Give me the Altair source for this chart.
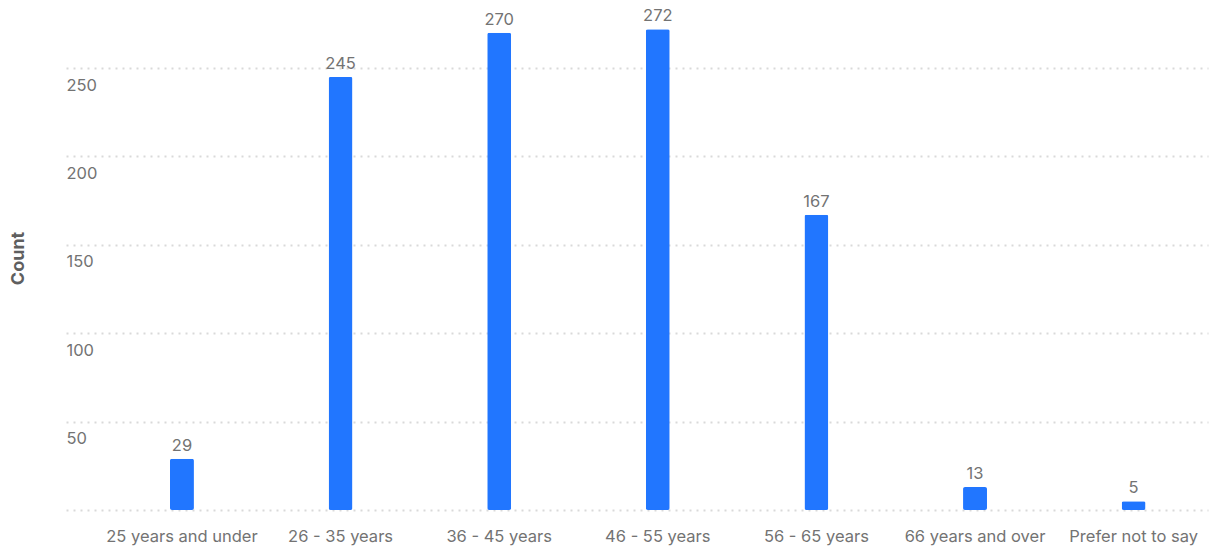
import altair as alt
import pandas as pd

# Respondents by age band
age_groups = [
    "25 years and under",
    "26 - 35 years",
    "36 - 45 years",
    "46 - 55 years",
    "56 - 65 years",
    "66 years and over",
    "Prefer not to say",
]
counts = [29, 245, 270, 272, 167, 13, 5]

df = pd.DataFrame({"group": age_groups, "count": counts})

FONT = "Inter"
TEXT_GREY = "#737373"
BAR_BLUE = "#2176ff"

x_scale = alt.Scale(paddingInner=0.849, paddingOuter=0.5245, align=0.625)

x_enc = alt.X(
    "group:N",
    sort=age_groups,
    title=None,
    scale=x_scale,
    axis=alt.Axis(
        labelAngle=0,
        labelFontSize=16.5,
        labelColor=TEXT_GREY,
        labelFont=FONT,
        ticks=False,
        domain=False,
        labelPadding=18,
    ),
)

y_enc = alt.Y(
    "count:Q",
    title="Count",
    scale=alt.Scale(domain=[0, 288.5], nice=False),
    axis=alt.Axis(
        values=[0, 50, 100, 150, 200, 250],
        labelExpr="datum.value == 0 ? '' : datum.label",
        labelAlign="left",
        labelBaseline="top",
        labelPadding=0,
        labelOffset=9,
        labelFontSize=16.5,
        labelColor=TEXT_GREY,
        labelFont=FONT,
        ticks=False,
        domain=False,
        grid=True,
        gridDash=[2, 5],
        gridWidth=2,
        gridColor="#d9d9d9",
        title="Count",
        titleFont=FONT,
        titleFontSize=18,
        titleFontWeight="bold",
        titleColor="#5f5f5f",
        titleX=-48,
        titleY=258,
        titleAngle=270,
        titleAlign="center",
        titleBaseline="middle",
    ),
)

bars = alt.Chart(df).mark_bar(color=BAR_BLUE, cornerRadius=2).encode(x=x_enc, y=y_enc)

labels = alt.Chart(df).mark_text(
    baseline="bottom",
    dy=-5,
    fontSize=16.5,
    font=FONT,
    color=TEXT_GREY,
).encode(x=alt.X("group:N", sort=age_groups, scale=x_scale), y="count:Q", text="count:Q")

chart = (
    alt.layer(bars, labels)
    .properties(
        width=1142,
        height=510,
        background="white",
        autosize=alt.AutoSizeParams(type="none"),
        padding={"left": 66, "top": 0, "right": 3, "bottom": 40},
    )
    .configure_view(strokeWidth=0, stroke="transparent")
)

chart.save("out.html", embed_options={"renderer": "svg", "actions": False})
